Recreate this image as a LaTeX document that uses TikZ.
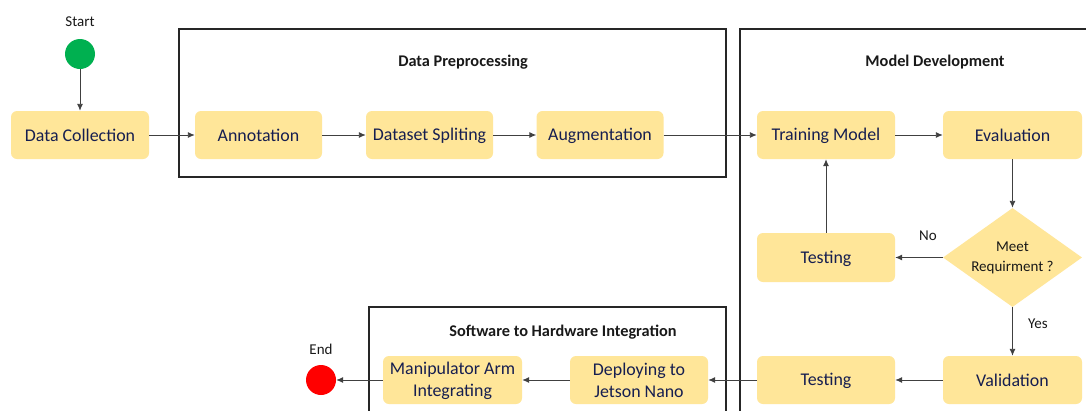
\documentclass[tikz,border=0pt]{standalone}
\usepackage{fontspec}
\setmainfont{Carlito}
\usetikzlibrary{arrows.meta,shapes.geometric}
\definecolor{boxfill}{HTML}{FFE699}
\definecolor{boxtext}{RGB}{22,30,80}
\definecolor{lineg}{HTML}{404040}
\definecolor{framec}{HTML}{262626}
\definecolor{startg}{HTML}{00B050}
\definecolor{endr}{HTML}{FF0000}
\newcommand{\st}{\rule[-3pt]{0pt}{18pt}}
\begin{document}
\begin{tikzpicture}[x=1pt,y=-1pt,
  proc/.style={fill=boxfill, rounded corners=6pt, minimum width=138pt, minimum height=48pt,
    text=boxtext, font=\fontsize{17.9}{22}\selectfont, align=center, inner sep=0pt},
  decision/.style={diamond, aspect=1.4, fill=boxfill, minimum width=139pt, minimum height=99pt,
    inner sep=0pt, align=center, text=black!90, font=\fontsize{15}{20}\selectfont},
  dot/.style={circle, minimum size=30pt, inner sep=0pt},
  lbl/.style={text=black!90, font=\fontsize{15}{18}\selectfont, inner sep=0pt},
  title/.style={text=black!90, font=\bfseries\fontsize{16.3}{20}\selectfont, inner sep=0pt},
  frame/.style={draw=framec, line width=1.2pt},
  arr/.style={draw=lineg, line width=0.9pt, -{Latex[length=7pt,width=6pt]}}
]
\clip (0,0) rectangle (1086,410);
\fill[white] (0,0) rectangle (1086,410);

% frames
\draw[frame] (179,29) rectangle (726,177);
\draw[frame] (740,29) rectangle (1100,430);
\draw[frame] (369,307) rectangle (726,430);
\node[title] (tpre) at (463,62) {Data Preprocessing};
\node[title] (tmod) at (935,62) {Model Development};
\node[title] (thw) at (563,332) {Software to Hardware Integration};

% start / end
\node[dot, fill=startg] (start) at (80,54) {};
\node[lbl] (startl) at (80,22) {Start};
\node[dot, fill=endr] (end) at (321,380) {};
\node[lbl] (endl) at (321,349) {End};

% boxes
\node[proc] (dc) at (80,135) {\st Data Collection};
\node[proc, minimum width=127pt] (ann) at (258.5,135) {\st Annotation};
\node[proc, minimum width=127pt] (split) at (429.5,135) {\st Dataset Spliting};
\node[proc, minimum width=127pt] (aug) at (600,135) {\st Augmentation};
\node[proc] (train) at (826,135) {\st Training Model};
\node[proc, minimum width=139pt] (eval) at (1012.5,135) {\st Evaluation};
\node[decision] (dia) at (1012.5,257.5) {Meet\\Requirment ?};
\node[proc, minimum height=49pt] (test1) at (826,257.5) {\st Testing};
\node[proc, minimum width=139pt] (val) at (1012.5,380) {\st Validation};
\node[proc] (test2) at (826,380) {\st Testing};
\node[proc] (dep) at (639,380) {\st Deploying to\\\st Jetson Nano};
\node[proc, minimum width=139pt] (man) at (452.5,380) {\st Manipulator Arm\\\st Integrating};

% labels
\node[lbl] (no) at (928,236) {No};
\node[lbl] (yes) at (1038,324) {Yes};

% connectors
\draw[arr] (start) -- (dc);
\draw[arr] (dc) -- (ann);
\draw[arr] (ann) -- (split);
\draw[arr] (split) -- (aug);
\draw[arr] (aug) -- (train);
\draw[arr] (train) -- (eval);
\draw[arr] (eval) -- (dia);
\draw[arr] (dia) -- (test1);
\draw[arr] (test1) -- (train);
\draw[arr] (dia) -- (val);
\draw[arr] (val) -- (test2);
\draw[arr] (test2) -- (dep);
\draw[arr] (dep) -- (man);
\draw[arr] (man) -- (end);
\end{tikzpicture}
\end{document}
